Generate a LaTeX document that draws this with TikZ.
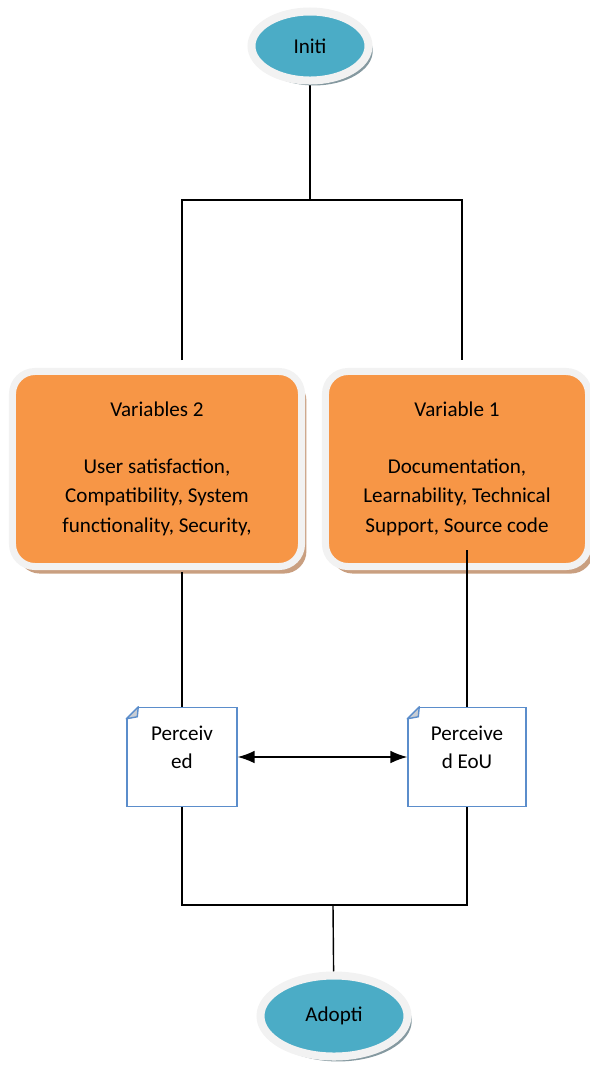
\documentclass[tikz,border=0pt]{standalone}
\usepackage{fontspec}
\setmainfont{Carlito}
\usepackage{xcolor}
\definecolor{EllBlue}{HTML}{4BACC6}
\definecolor{EllShadow}{HTML}{8599A0}
\definecolor{BoxOrange}{HTML}{F79646}
\definecolor{BoxShadow}{HTML}{C99F80}
\definecolor{RingGrey}{HTML}{F2F2F2}
\definecolor{NoteBlue}{HTML}{5B8DCB}
\definecolor{FoldGrey}{HTML}{C8CDD4}
\usetikzlibrary{shapes.geometric, arrows.meta, shadows, backgrounds}

\begin{document}
\begin{tikzpicture}[
  x=0.025cm, y=-0.025cm,
  term/.style={ellipse, fill=EllBlue, draw=RingGrey, line width=0.2cm, inner sep=0pt, font=\fontsize{15}{18}\selectfont, drop shadow={shadow xshift=3pt, shadow yshift=-3.5pt, fill=EllShadow, opacity=1}},
  group/.style={rectangle, rounded corners=16pt, fill=BoxOrange, draw=RingGrey, line width=0.175cm, minimum height=4.875cm, align=center, font=\fontsize{15}{21.3}\selectfont, drop shadow={shadow xshift=3.5pt, shadow yshift=-5pt, fill=BoxShadow, opacity=1}},
  note/.style={rectangle, draw=NoteBlue, fill=white, line width=1pt, minimum height=2.475cm, text depth=14pt, align=center, font=\fontsize{15}{19.8}\selectfont},
  link/.style={line width=1pt, black},
  arrow/.style={<->, >={Latex[length=12pt, width=9pt]}, line width=1pt, black}
]
  \useasboundingbox (0,0) rectangle (590,1068);

  % Start and end
  \node[term, minimum width=2.925cm, minimum height=1.725cm] (initi) at (310,46) {Initi};
  \node[term, minimum width=3.675cm, minimum height=2.025cm] (adopt) at (334,1016) {Adopti};

  % Variable groups
  \node[group, minimum width=7.225cm] (var2) at (157,469) {Variables 2\\[19pt]User satisfaction,\\Compatibility, System\\functionality, Security,};
  \node[group, minimum width=6.575cm] (var1) at (457,469) {Variable 1\\[19pt]Documentation,\\Learnability, Technical\\Support, Source code};

  % Perceived notes
  \node[note, minimum width=2.75cm] (pu) at (182,757) {Perceiv\\ed};
  \node[note, minimum width=2.95cm] (peou) at (467,757) {Perceive\\d EoU};
  \foreach \n in {pu, peou} {
    \fill[white] ([shift={(-1,-1)}]\n.north west) -- ([shift={(13,-1)}]\n.north west) -- ([shift={(-1,13)}]\n.north west) -- cycle;
    \filldraw[draw=NoteBlue, fill=FoldGrey, line width=1pt, line join=round] ([shift={(0,12)}]\n.north west) -- ([shift={(12,0)}]\n.north west) -- ([shift={(11,10)}]\n.north west) -- cycle;
  }

  % Connectors
  \coordinate (split) at (310,200);
  \coordinate (v2in) at (182,360);
  \coordinate (v1in) at (462,360);
  \coordinate (v2out) at (182,572);
  \coordinate (v1out) at (467,550);
  \coordinate (merge) at (333,905);
  \begin{scope}[on background layer]
    \draw[link] (initi) -- (split);
    \draw[link] (merge) -- (adopt);
  \end{scope}
  \draw[link] (v2in) |- (split) -| (v1in);
  \draw[link] (v2out) -- (pu);
  \draw[link] (v1out) -- (peou);
  \draw[link] (pu) |- (merge) -| (peou);
  \draw[arrow] (pu) -- (peou);
\end{tikzpicture}
\end{document}
